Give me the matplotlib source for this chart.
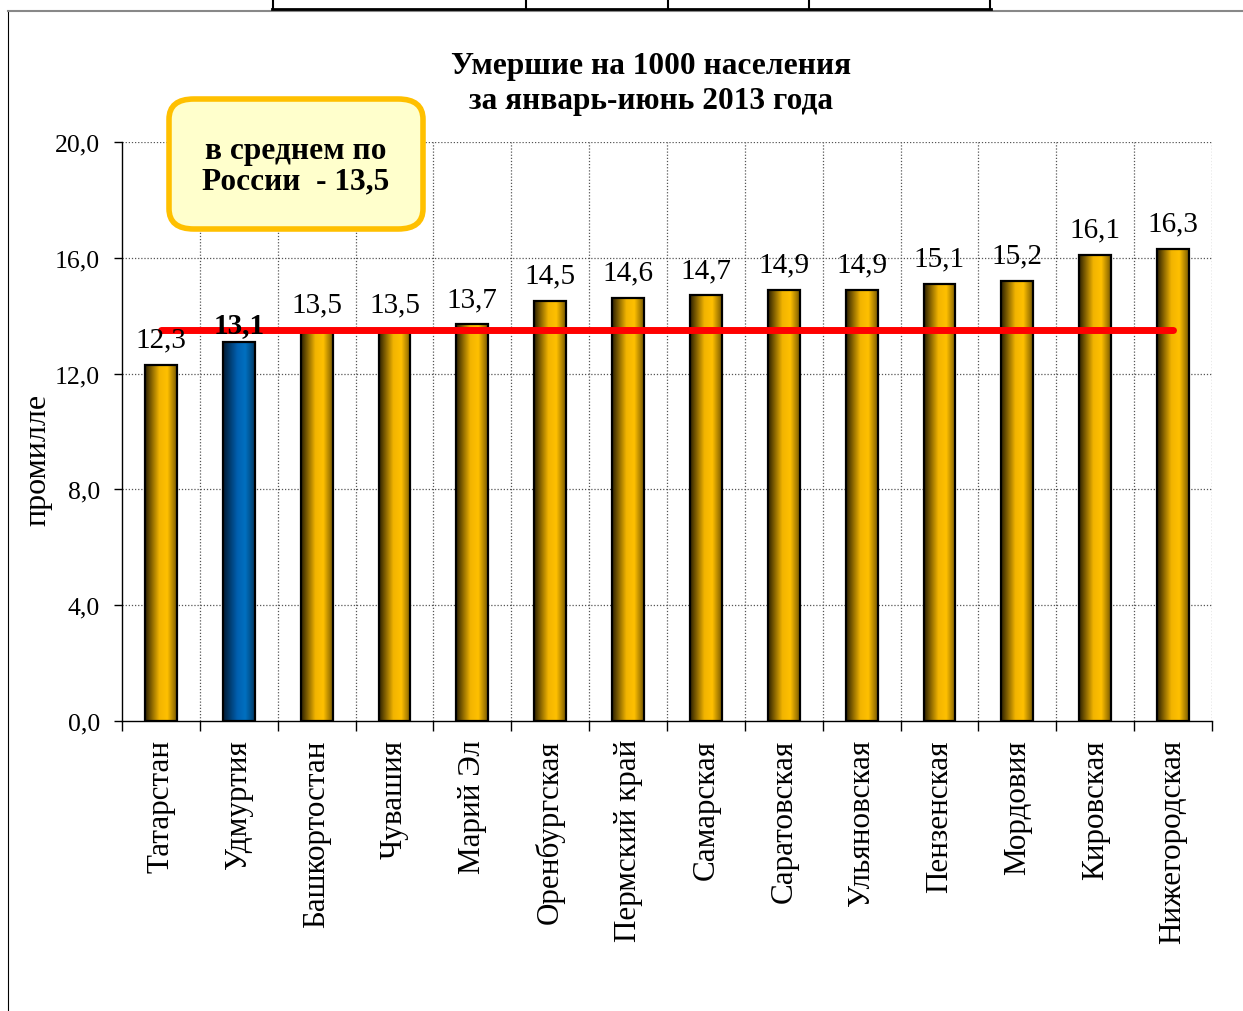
import numpy as np
import matplotlib
matplotlib.use('Agg')
import matplotlib.pyplot as plt
from matplotlib.colors import LinearSegmentedColormap
from matplotlib.lines import Line2D
from matplotlib.patches import FancyBboxPatch

plt.rcParams['font.family'] = ['Liberation Serif', 'DejaVu Serif']

regions = ['Татарстан', 'Удмуртия', 'Башкортостан', 'Чувашия', 'Марий Эл',
           'Оренбургская', 'Пермский край', 'Самарская', 'Саратовская',
           'Ульяновская', 'Пензенская', 'Мордовия', 'Кировская', 'Нижегородская']
values = [12.3, 13.1, 13.5, 13.5, 13.7, 14.5, 14.6, 14.7, 14.9, 14.9, 15.1, 15.2, 16.1, 16.3]
russia_avg = 13.5
highlight = 'Удмуртия'
yticks = [0, 4, 8, 12, 16, 20]

W, H = 1243, 1012
fig = plt.figure(figsize=(W / 100, H / 100), dpi=100)
ax = fig.add_axes([122 / W, 1 - 722 / H, (1212 - 122) / W, (722 - 143) / H])

gold = LinearSegmentedColormap.from_list('gold', [(0, '#2b1f00'), (0.45, '#f2b400'),
                                                  (0.7, '#ffc000'), (1, '#7a5a00')])
blue = LinearSegmentedColormap.from_list('blue', [(0, '#001a33'), (0.45, '#0060b0'),
                                                  (0.7, '#0070c0'), (1, '#003a66')])
grad = np.linspace(0, 1, 256).reshape(1, -1)

x = np.arange(len(regions))
bw = 0.41
bars = ax.bar(x, values, width=bw, facecolor='none', edgecolor='black', linewidth=1.6, zorder=4)
for b, name in zip(bars, regions):
    cm = blue if name == highlight else gold
    ax.imshow(grad, extent=[b.get_x(), b.get_x() + b.get_width(), 0, b.get_height()],
              aspect='auto', cmap=cm, zorder=3, interpolation='bilinear')

for xi, v, name in zip(x, values, regions):
    bold = name == highlight
    ax.annotate(f'{v:.1f}'.replace('.', ','), (xi, v), xytext=(0, 3 if bold else 9),
                textcoords='offset points', ha='center', va='bottom', fontsize=21,
                fontweight='bold' if bold else 'normal', zorder=6)

ax.plot([x[0], x[-1]], [russia_avg, russia_avg], color='#ff0000', linewidth=5,
        solid_capstyle='round', zorder=5)

ax.set_xlim(-0.5, len(regions) - 0.5)
ax.set_ylim(0, 20)
ax.set_yticks(yticks)
ax.set_yticklabels([f'{t:.1f}'.replace('.', ',') for t in yticks], fontsize=18.5)
ax.set_xticks(x)
ax.set_xticklabels(regions, rotation=90, fontsize=22.4)
ax.tick_params(axis='x', length=0, pad=13)
ax.set_xticks(np.arange(-0.5, len(regions)), minor=True)
ax.tick_params(axis='x', which='minor', length=7, direction='out', width=1)
ax.tick_params(axis='y', length=6, width=1, pad=10)

for t in yticks[1:]:
    ax.axhline(t, color='#555555', linestyle=(0, (1, 1.5)), linewidth=0.9, zorder=1)
for v in np.arange(0.5, len(regions)):
    ax.axvline(v, color='#555555', linestyle=(0, (1, 1.5)), linewidth=0.9, zorder=1)
ax.spines['top'].set_visible(False)
ax.spines['right'].set_visible(False)
ax.spines['left'].set_linewidth(1)
ax.spines['bottom'].set_linewidth(1)

ax.set_ylabel('промилле', fontsize=23)
ax.yaxis.set_label_coords(-70 / 1090, 0.4525)

fig.text(651 / W, 1 - 84 / H, 'Умершие на 1000 населения\nза январь-июнь 2013 года',
         ha='center', va='center', fontsize=22.6, fontweight='bold', linespacing=1.25)

box = FancyBboxPatch((169 / W, 1 - 230 / H), (423 - 169) / W, (230 - 100) / H,
                     boxstyle='round,pad=0,rounding_size=0.02', transform=fig.transFigure,
                     facecolor='#ffffcc', edgecolor='#ffc000', linewidth=4, zorder=10)
fig.add_artist(box)
fig.text(296 / W, 1 - 167 / H, 'в среднем по\nРоссии  - 13,5', ha='center', va='center',
         fontsize=22.6, fontweight='bold', linespacing=1.05, zorder=11)

# frame and cropped table at top
fig.add_artist(Line2D([8 / W, 8 / W], [0, 1 - 12 / H], color='black', linewidth=0.8))
fig.add_artist(Line2D([8 / W, 1], [1 - 12 / H, 1 - 12 / H], color='#888888', linewidth=1.5))
fig.add_artist(Line2D([272 / W, 991 / W], [1 - 10 / H, 1 - 10 / H], color='black', linewidth=2))
for px in [273, 526, 668, 809, 990]:
    fig.add_artist(Line2D([px / W, px / W], [1 - 10 / H, 1], color='black', linewidth=1.5))

fig.savefig('out.png', dpi=100)
